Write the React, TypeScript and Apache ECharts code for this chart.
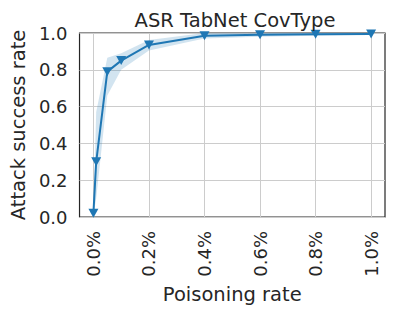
import React, { useEffect, useRef } from "react";
import * as echarts from "echarts";

const titleText = "ASR TabNet CovType";
const xAxisName = "Poisoning rate";
const yAxisName = "Attack success rate";
const poisoningRates = [0, 0.01, 0.05, 0.1, 0.2, 0.4, 0.6, 0.8, 1.0];
const asrMean = [0.02, 0.30, 0.79, 0.85, 0.935, 0.985, 0.99, 0.993, 0.995];
const asrLower = [0.01, 0.10, 0.66, 0.80, 0.905, 0.97, 0.98, 0.985, 0.99];
const asrUpper = [0.03, 0.57, 0.865, 0.89, 0.962, 1.0, 1.0, 1.0, 1.0];
const xTicks = [0, 0.2, 0.4, 0.6, 0.8, 1.0];

const FONT = "DejaVu Sans";
const BLUE = "#1f77b4";

export default function App() {
  const ref = useRef<HTMLDivElement>(null);
  useEffect(() => {
    if (!ref.current) return;
    document.body.style.margin = "0";
    const chart = echarts.init(ref.current, undefined, { renderer: "svg" });
    const bandData = poisoningRates.map((x, i) => [x, asrLower[i], asrUpper[i]]);
    const meanData = poisoningRates.map((x, i) => [x, asrMean[i]]);
    chart.setOption({
      animation: false,
      title: {
        text: titleText,
        left: 230,
        textAlign: "center",
        top: 5,
        textStyle: { fontFamily: FONT, fontSize: 19.5, fontWeight: "normal", color: "#262626" },
      },
      grid: {
        left: 75,
        right: 10,
        top: 33,
        bottom: 94,
        show: true,
        borderColor: "#262626",
        borderWidth: 1.2,
      },
      xAxis: {
        type: "value",
        min: -0.05,
        max: 1.05,
        name: xAxisName,
        nameLocation: "middle",
        nameGap: 59,
        nameTextStyle: { fontFamily: FONT, fontSize: 19.5, color: "#262626" },
        axisLine: { show: false },
        axisTick: { show: false, customValues: xTicks },
        axisLabel: {
          customValues: xTicks,
          rotate: 90,
          margin: 14,
          fontFamily: FONT,
          fontSize: 18,
          color: "#262626",
          formatter: (v: number) => v.toFixed(1) + "%",
        },
        splitLine: { show: true, lineStyle: { color: "#cccccc", width: 1 } },
      },
      yAxis: {
        type: "value",
        min: 0,
        max: 1,
        interval: 0.2,
        name: yAxisName,
        nameLocation: "middle",
        nameGap: 51,
        nameTextStyle: { fontFamily: FONT, fontSize: 19.5, color: "#262626" },
        axisLine: { show: false },
        axisTick: { show: false },
        axisLabel: {
          margin: 12,
          fontFamily: FONT,
          fontSize: 18,
          color: "#262626",
          formatter: (v: number) => v.toFixed(1),
        },
        splitLine: { show: true, lineStyle: { color: "#cccccc", width: 1 } },
      },
      series: [
        {
          type: "custom",
          data: bandData,
          encode: { x: 0, y: [1, 2] },
          silent: true,
          renderItem: (params: any, api: any) => {
            if (params.dataIndex !== 0) return null;
            const upper = bandData.map((d) => api.coord([d[0], d[2]]));
            const lower = bandData.map((d) => api.coord([d[0], d[1]])).reverse();
            return {
              type: "polygon",
              shape: { points: upper.concat(lower) },
              style: { fill: "rgba(31,119,180,0.2)", stroke: "none" },
            };
          },
          z: 2,
        },
        {
          type: "line",
          data: meanData,
          symbol: "triangle",
          symbolRotate: 180,
          symbolSize: [10, 9],
          itemStyle: { color: BLUE },
          lineStyle: { color: BLUE, width: 2 },
          z: 5,
        },
      ],
    });
    return () => chart.dispose();
  }, []);
  return <div ref={ref} style={{ width: 395, height: 311 }} />;
}
